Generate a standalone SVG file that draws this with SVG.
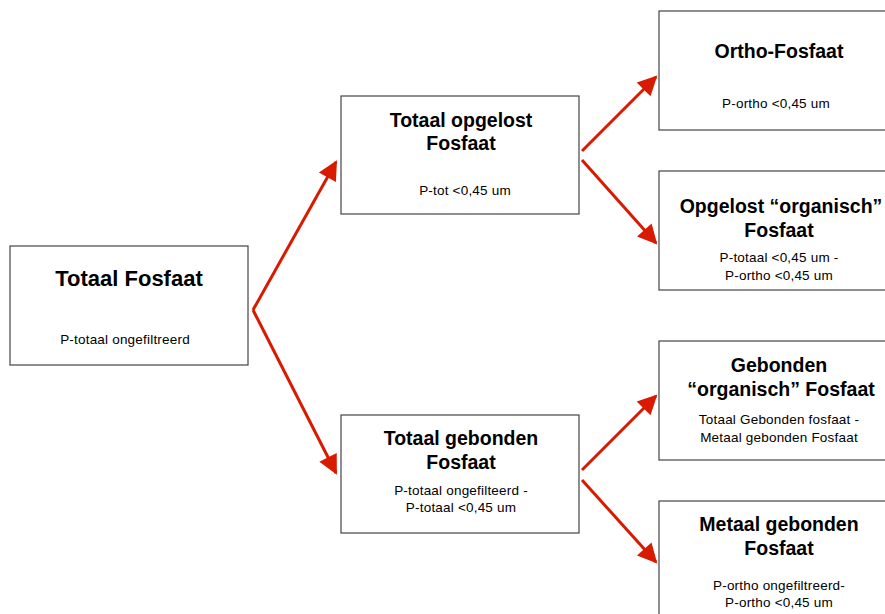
<svg xmlns="http://www.w3.org/2000/svg" width="885" height="614" viewBox="0 0 885 614">
<defs>
<style>
.box{fill:#fff;stroke:#444;stroke-width:1.2}
.t{font-family:"Liberation Sans",Arial,sans-serif;font-weight:bold;font-size:19.5px;fill:#000;text-anchor:middle}
.t1{font-size:22px}
.s{font-family:"Liberation Sans",Arial,sans-serif;font-size:13.5px;letter-spacing:0.2px;fill:#000;text-anchor:middle}
.c{fill:none;stroke:#d71a00;stroke-width:3;stroke-linecap:butt}
</style>
<marker id="ah" viewBox="0 0 10 10" refX="9" refY="5" markerWidth="7.5" markerHeight="6.5" markerUnits="strokeWidth" orient="auto">
<path d="M0,0 L10,5 L0,10 z" fill="#d71a00"/>
</marker>
</defs>
<rect width="885" height="614" fill="#fff"/>
<g id="connectors">
<line class="c" x1="253" y1="310" x2="336" y2="162" marker-end="url(#ah)"/>
<line class="c" x1="253" y1="310" x2="336" y2="473" marker-end="url(#ah)"/>
<line class="c" x1="582" y1="151" x2="656" y2="77" marker-end="url(#ah)"/>
<line class="c" x1="582" y1="160" x2="656" y2="243" marker-end="url(#ah)"/>
<line class="c" x1="582" y1="470" x2="656" y2="396" marker-end="url(#ah)"/>
<line class="c" x1="582" y1="480" x2="656" y2="562" marker-end="url(#ah)"/>
</g>
<g id="totaal-fosfaat">
<rect class="box" x="10" y="246" width="238" height="119"/>
<text class="t t1" x="129" y="286">Totaal Fosfaat</text>
<text class="s" x="125" y="344">P-totaal ongefiltreerd</text>
</g>
<g id="totaal-opgelost">
<rect class="box" x="341" y="96" width="238" height="118"/>
<text class="t" x="461" y="127">Totaal opgelost</text>
<text class="t" x="461" y="150">Fosfaat</text>
<text class="s" x="465" y="195">P-tot &lt;0,45 um</text>
</g>
<g id="totaal-gebonden">
<rect class="box" x="341" y="415" width="238" height="118"/>
<text class="t" x="461" y="445">Totaal gebonden</text>
<text class="t" x="461" y="469">Fosfaat</text>
<text class="s" x="461" y="495">P-totaal ongefilteerd -</text>
<text class="s" x="461" y="512">P-totaal &lt;0,45 um</text>
</g>
<g id="ortho-fosfaat">
<rect class="box" x="659" y="11" width="240" height="119"/>
<text class="t" x="779" y="58">Ortho-Fosfaat</text>
<text class="s" x="776" y="108">P-ortho &lt;0,45 um</text>
</g>
<g id="opgelost-organisch">
<rect class="box" x="659" y="171" width="240" height="119"/>
<text class="t" x="781" y="213">Opgelost “organisch”</text>
<text class="t" x="779" y="237">Fosfaat</text>
<text class="s" x="779" y="262">P-totaal &lt;0,45 um -</text>
<text class="s" x="779" y="280">P-ortho &lt;0,45 um</text>
</g>
<g id="gebonden-organisch">
<rect class="box" x="659" y="341" width="240" height="119"/>
<text class="t" x="779" y="372">Gebonden</text>
<text class="t" x="781" y="396">“organisch” Fosfaat</text>
<text class="s" x="779" y="424">Totaal Gebonden fosfaat -</text>
<text class="s" x="779" y="442">Metaal gebonden Fosfaat</text>
</g>
<g id="metaal-gebonden">
<rect class="box" x="659" y="501" width="240" height="119"/>
<text class="t" x="779" y="531">Metaal gebonden</text>
<text class="t" x="779" y="555">Fosfaat</text>
<text class="s" x="779" y="590">P-ortho ongefiltreerd-</text>
<text class="s" x="779" y="607">P-ortho &lt;0,45 um</text>
</g>
</svg>
